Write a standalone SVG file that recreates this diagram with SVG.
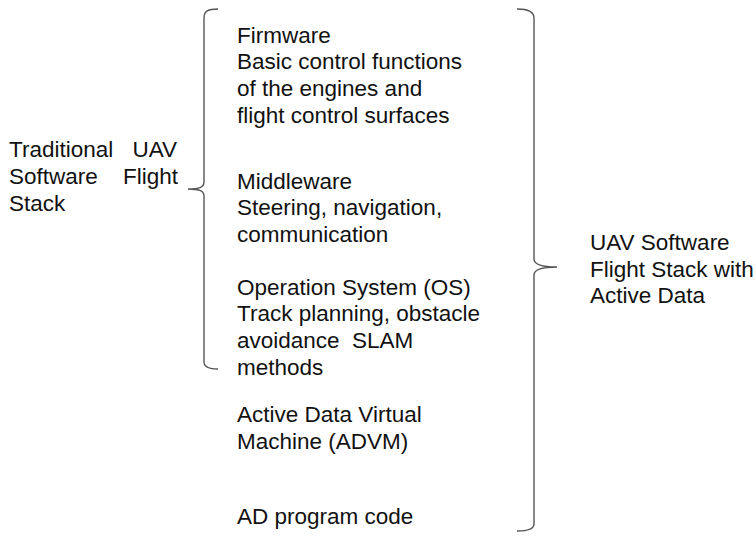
<svg xmlns="http://www.w3.org/2000/svg" width="756" height="537" viewBox="0 0 756 537">
<style>
  text { font-family: "Liberation Sans", Arial, sans-serif; font-size: 22.5px; fill: #111; }
  .brace { fill: none; stroke: #555; stroke-width: 1.4; }
</style>
<rect width="756" height="537" fill="#fff"/>
<g id="connectors">
  <path class="brace" d="M218,9 C208,9 204,11 204,18 L204,182 C204,187 200,189 188,189 C200,189 204,191 204,196 L204,362 C204,367 208,369 218,369"/>
  <path class="brace" d="M517,9 C527,9 534,11 534,18 L534,259 C534,264 540,267 557,267 C540,267 534,270 534,275 L534,524 C534,529 527,531 517,531"/>
</g>
<g id="traditional">
  <text x="9" y="157">Traditional</text>
  <text x="177" y="157" text-anchor="end">UAV</text>
  <text x="9" y="184">Software</text>
  <text x="178" y="184" text-anchor="end">Flight</text>
  <text x="9" y="211">Stack</text>
</g>
<g id="firmware">
  <text x="237" y="43">Firmware</text>
  <text x="237" y="69">Basic control functions</text>
  <text x="237" y="96">of the engines and</text>
  <text x="237" y="123">flight control surfaces</text>
</g>
<g id="middleware">
  <text x="237" y="189">Middleware</text>
  <text x="237" y="215">Steering, navigation,</text>
  <text x="237" y="242">communication</text>
</g>
<g id="os">
  <text x="237" y="295">Operation System (OS)</text>
  <text x="237" y="321">Track planning, obstacle</text>
  <text x="237" y="348" xml:space="preserve">avoidance  SLAM</text>
  <text x="237" y="375">methods</text>
</g>
<g id="advm">
  <text x="237" y="422">Active Data Virtual</text>
  <text x="237" y="449">Machine (ADVM)</text>
</g>
<g id="adcode">
  <text x="237" y="524">AD program code</text>
</g>
<g id="active-stack">
  <text x="590" y="250">UAV Software</text>
  <text x="590" y="277">Flight Stack with</text>
  <text x="590" y="303">Active Data</text>
</g>
</svg>
